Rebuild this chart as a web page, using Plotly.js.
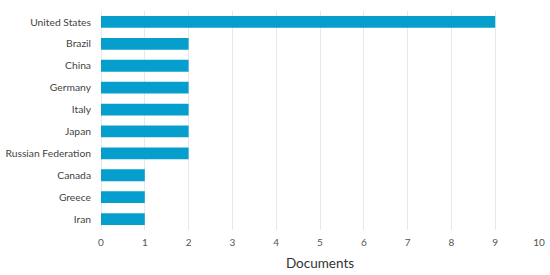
<!DOCTYPE html>
<html>
<head>
<meta charset="utf-8">
<script src="https://cdn.plot.ly/plotly-3.0.1.min.js"></script>
<style>
  html, body { margin: 0; padding: 0; background: #fff; }
  #chart { width: 550px; height: 275px; }
</style>
</head>
<body>
<div id="chart"></div>
<script>
    // pays et nombre de documents
    var pays = ['United States', 'Brazil', 'China', 'Germany', 'Italy', 'Japan',
                'Russian Federation', 'Canada', 'Greece', 'Iran'];
    var documents = [9, 2, 2, 2, 2, 2, 2, 1, 1, 1];
    var ticksX = [0, 1, 2, 3, 4, 5, 6, 7, 8, 9, 10];

    var trace = {
        x: documents,
        y: pays,
        type: 'bar',
        orientation: 'h',
        marker: { color: '#069fcd' },
        width: 0.54,
        hoverinfo: 'x+y'
    };

    var layout = {
        width: 550,
        height: 275,
        margin: { l: 101, r: 11, t: 11, b: 45 },
        paper_bgcolor: '#ffffff',
        plot_bgcolor: '#ffffff',
        font: { family: 'Lato, "Open Sans", sans-serif', color: '#4a4a4a', size: 10.3 },
        showlegend: false,
        xaxis: {
            range: [0, 10],
            tickvals: ticksX,
            showgrid: true,
            gridcolor: '#e8e8e8',
            zeroline: true,
            zerolinecolor: '#e8e8e8',
            showline: false,
            ticks: '',
            ticklabelstandoff: 5,
            tickfont: { size: 10, color: '#555' },
            title: { text: 'Documents', font: { size: 13.5, color: '#333' }, standoff: 11 }
        },
        yaxis: {
            autorange: 'reversed',
            showgrid: false,
            zeroline: false,
            showline: false,
            ticks: '',
            ticklabelstandoff: 9,
            tickfont: { size: 10.3, color: '#444' }
        }
    };

    Plotly.newPlot('chart', [trace], layout, { displayModeBar: false, staticPlot: true });
</script>
</body>
</html>
